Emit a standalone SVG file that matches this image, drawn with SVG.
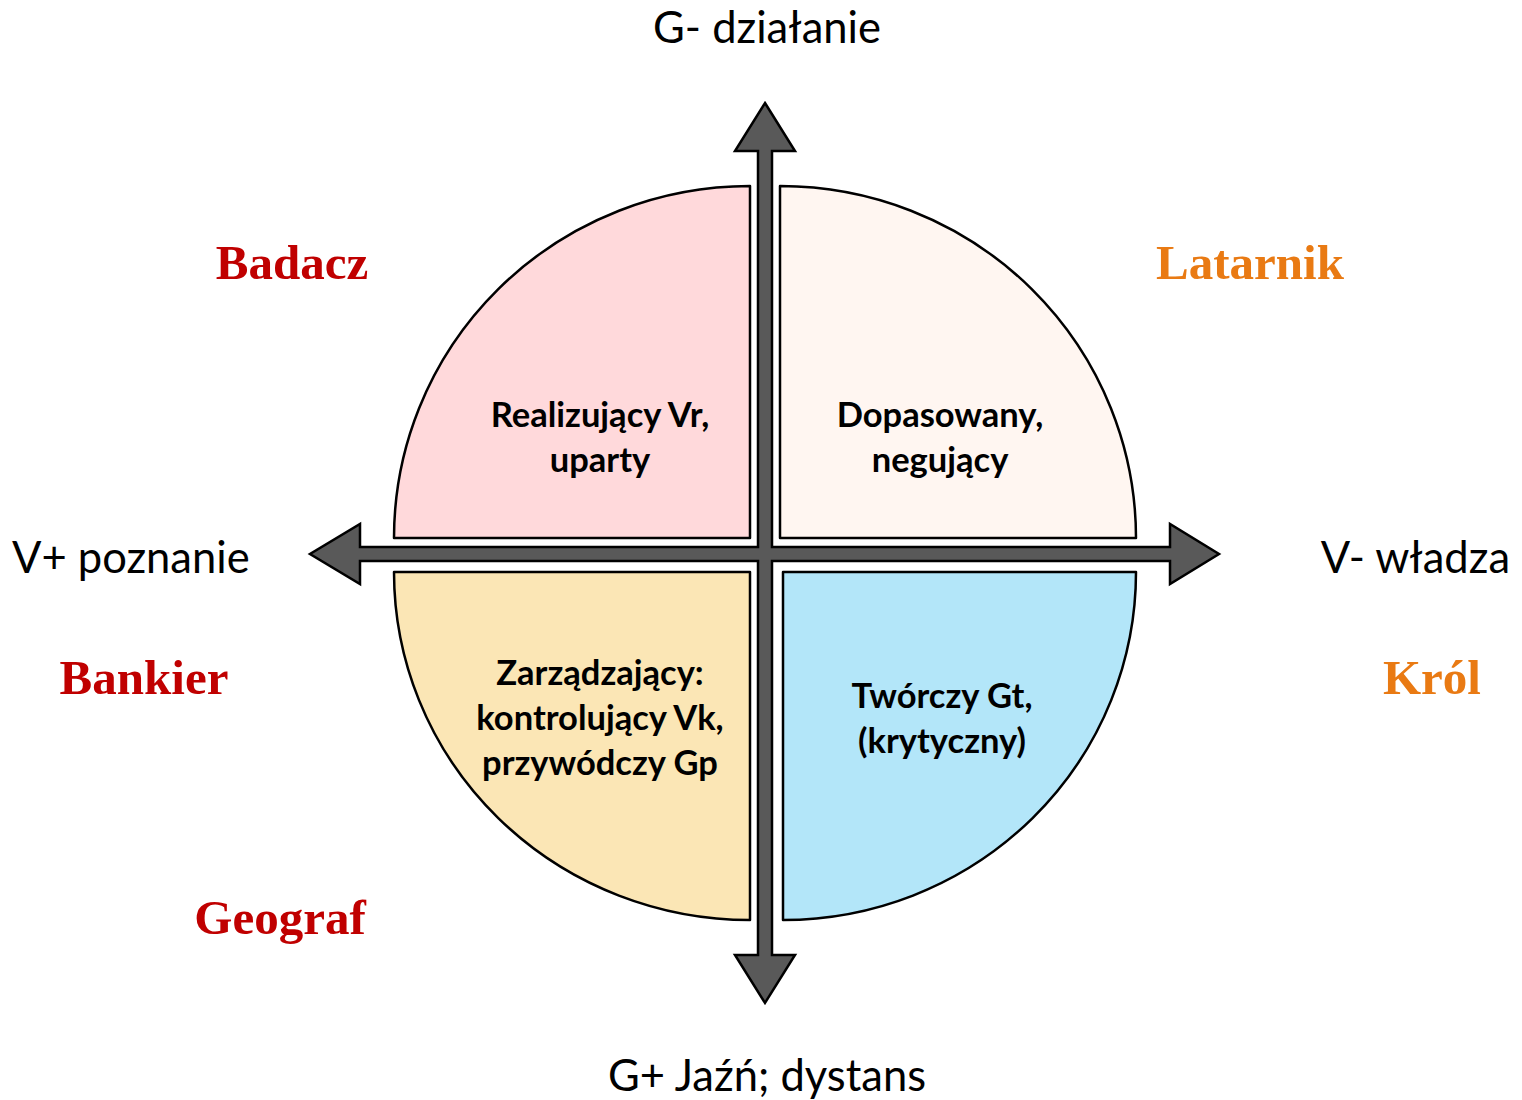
<svg xmlns="http://www.w3.org/2000/svg" width="1522" height="1100" viewBox="0 0 1522 1100">
<style>
.q{stroke:#000;stroke-width:2.5;stroke-linejoin:round}
.ax{font-family:Lato,"Open Sans",sans-serif;font-size:43.5px;fill:#000}
.qt{font-family:Lato,"Open Sans",sans-serif;font-size:34.5px;font-weight:bold;fill:#000;text-anchor:middle}
.role{font-family:"Liberation Serif","Times New Roman",serif;font-size:49px;font-weight:bold}
.red{fill:#C00000}
.org{fill:#E97A13}
</style>
<rect width="1522" height="1100" fill="#fff"/>
<g id="quadrant-tl">
<path class="q" fill="#FFD9DB" d="M750,538 L394,538 A356,352 0 0 1 750,186 Z"/>
<text class="qt" x="600" y="427">Realizujący Vr,</text>
<text class="qt" x="600" y="472">uparty</text>
</g>
<g id="quadrant-tr">
<path class="q" fill="#FFF6F1" d="M780,538 L780,186 A356,352 0 0 1 1136,538 Z"/>
<text class="qt" x="940" y="427">Dopasowany,</text>
<text class="qt" x="940" y="472">negujący</text>
</g>
<g id="quadrant-bl">
<path class="q" fill="#FBE6B5" d="M750,572 L750,920 A356,348 0 0 1 394,572 Z"/>
<text class="qt" x="600" y="685">Zarządzający:</text>
<text class="qt" x="600" y="730">kontrolujący Vk,</text>
<text class="qt" x="600" y="775">przywódczy Gp</text>
</g>
<g id="quadrant-br">
<path class="q" fill="#B3E6F9" d="M783,572 L1136,572 A353,348 0 0 1 783,920 Z"/>
<text class="qt" x="942" y="708">Twórczy Gt,</text>
<text class="qt" x="942" y="753">(krytyczny)</text>
</g>
<g id="connectors">
<path fill="#595959" stroke="#000" stroke-width="2.5" stroke-linejoin="miter" d="M765,103 L795,151 L772,151 L772,547 L1170,547 L1170,524 L1219,554 L1170,584 L1170,561 L772,561 L772,955 L795,955 L765,1003 L735,955 L758,955 L758,561 L360,561 L360,584 L310,554 L360,524 L360,547 L758,547 L758,151 L735,151 Z"/>
</g>
<g id="axis-labels">
<text class="ax" x="767" y="43" text-anchor="middle">G- działanie</text>
<text class="ax" x="767" y="1091" text-anchor="middle">G+ Jaźń; dystans</text>
<text class="ax" x="12" y="573">V+ poznanie</text>
<text class="ax" x="1510" y="573" text-anchor="end">V- władza</text>
</g>
<g id="roles">
<text class="role red" x="292" y="279" text-anchor="middle">Badacz</text>
<text class="role org" x="1250" y="279" text-anchor="middle">Latarnik</text>
<text class="role red" x="144" y="694" text-anchor="middle">Bankier</text>
<text class="role org" x="1432" y="694" text-anchor="middle">Król</text>
<text class="role red" x="280" y="934" text-anchor="middle">Geograf</text>
</g>
</svg>
